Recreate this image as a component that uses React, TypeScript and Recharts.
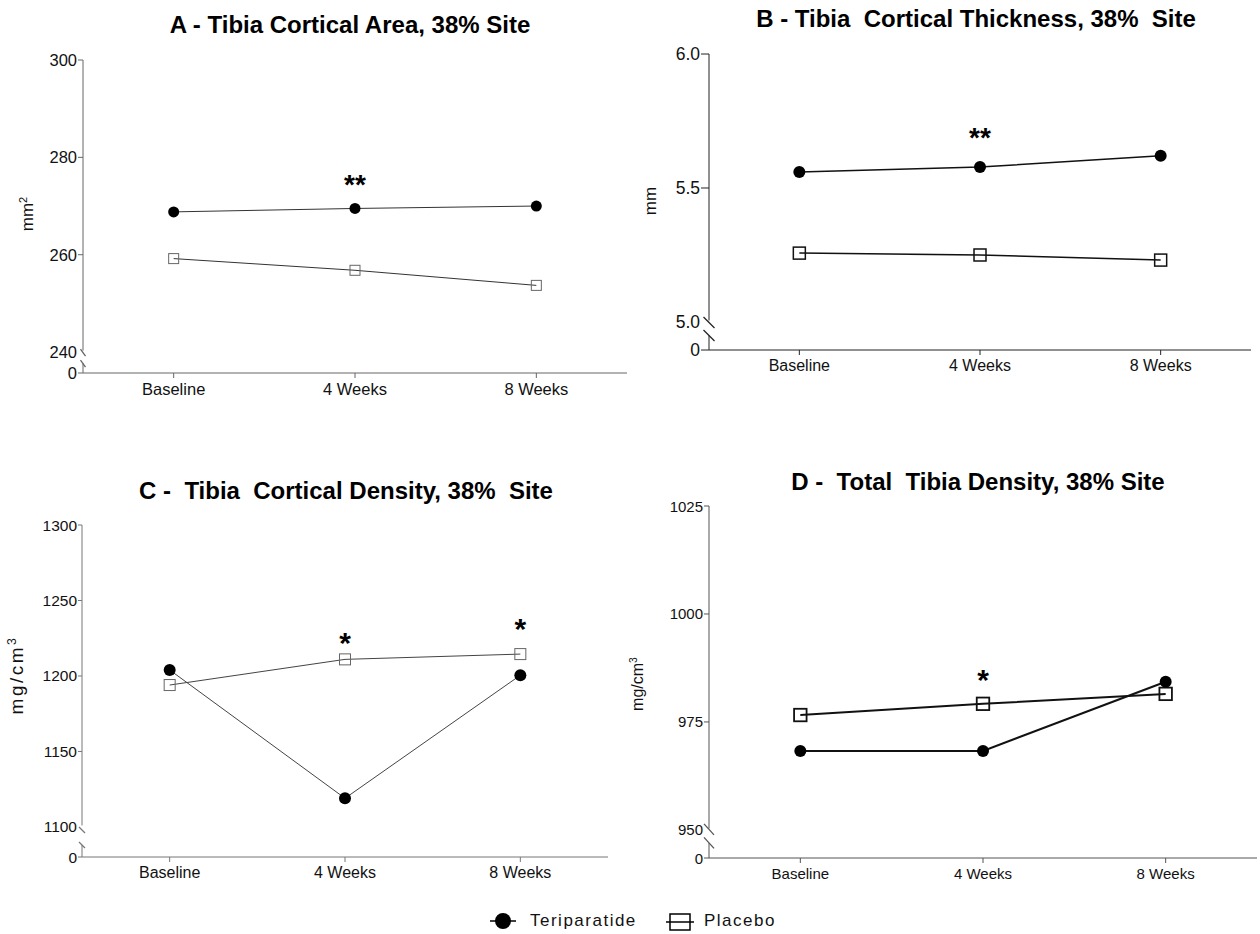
import React from 'react'
import { LineChart, Line, XAxis, YAxis } from 'recharts'

// categories
const weeks = ['Baseline', '4 Weeks', '8 Weeks']

// A - cortical area (mm2)
const areaTeri = [268.8, 269.5, 270.0]
const areaPlac = [259.2, 256.8, 253.7]
const areaSig = ['', '**', '']
const areaTicks = [240, 260, 280, 300]

// B - cortical thickness (mm)
const thickTeri = [5.56, 5.578, 5.62]
const thickPlac = [5.257, 5.25, 5.231]
const thickSig = ['', '**', '']
const thickTicks = [5.0, 5.5, 6.0]

// C - cortical density (mg/cm3)
const cortTeri = [1204, 1119, 1200.5]
const cortPlac = [1194, 1211, 1214.5]
const cortSig = ['', '*', '*']
const cortTicks = [1100, 1150, 1200, 1250, 1300]

// D - total density (mg/cm3)
const totTeri = [968.3, 968.3, 984.3]
const totPlac = [976.6, 979.2, 981.5]
const totSig = ['', '*', '']
const totTicks = [950, 975, 1000, 1025]

const FONT = '"Liberation Sans", Arial, Helvetica, sans-serif'
const Y_W = 50

type Panel = {
  title: string
  titleX: number
  titleTop: number
  unit: React.ReactNode
  unitX: number
  unitY: number
  unitFont: number
  unitSpacing: number
  teri: number[]
  plac: number[]
  sig: string[]
  sigOn: 'teri' | 'plac'
  starGap: number[]
  starSize: number
  ticks: number[]
  floor: number
  digits: number
  box: { left: number; top: number; width: number; height: number }
  margin: { top: number; right: number; bottom: number; left: number }
  yTick: number
  tickFont: number
  xFont: number
  axisColor: string
  lineColor: string
  lineWidth: number
  dotR: number
  sq: number
  sqColor: string
  sqWidth: number
  brk: { w: number; h: number; dy: number; gap: number }
}

const panels: Panel[] = [
  {
    title: 'A - Tibia Cortical Area, 38% Site',
    titleX: 350, titleTop: 13,
    unit: <span>mm<sup style={{ fontSize: '0.65em' }}>2</sup></span>,
    unitX: 27, unitY: 214, unitFont: 17, unitSpacing: 0,
    teri: areaTeri, plac: areaPlac, sig: areaSig, sigOn: 'teri',
    starGap: [0, 29, 0], starSize: 28,
    ticks: areaTicks, floor: 235.7, digits: 0,
    box: { left: 0, top: 0, width: 640, height: 420 },
    margin: { top: 60, right: 13, bottom: 17, left: 33 },
    yTick: 5, tickFont: 16.5, xFont: 16.5,
    axisColor: '#666', lineColor: '#333', lineWidth: 1,
    dotR: 5.5, sq: 10, sqColor: '#666', sqWidth: 1,
    brk: { w: 5, h: 7, dy: 0.5, gap: 11 },
  },
  {
    title: 'B - Tibia  Cortical Thickness, 38%  Site',
    titleX: 976, titleTop: 7,
    unit: <span>mm</span>,
    unitX: 651, unitY: 201, unitFont: 17, unitSpacing: 0,
    teri: thickTeri, plac: thickPlac, sig: thickSig, sigOn: 'teri',
    starGap: [0, 34, 0], starSize: 28,
    ticks: thickTicks, floor: 4.8955, digits: 1,
    box: { left: 630, top: 0, width: 630, height: 400 },
    margin: { top: 54, right: 9, bottom: 20, left: 29 },
    yTick: 8, tickFont: 17.5, xFont: 16,
    axisColor: '#222', lineColor: '#111', lineWidth: 1.5,
    dotR: 6, sq: 12, sqColor: '#111', sqWidth: 1.5,
    brk: { w: 11, h: 11, dy: 0.5, gap: 13 },
  },
  {
    title: 'C -  Tibia  Cortical Density, 38%  Site',
    titleX: 346, titleTop: 479,
    unit: <span>mg/cm<sup style={{ fontSize: '0.65em' }}>3</sup></span>,
    unitX: 17, unitY: 675, unitFont: 19, unitSpacing: 2.5,
    teri: cortTeri, plac: cortPlac, sig: cortSig, sigOn: 'plac',
    starGap: [0, 22, 30], starSize: 30,
    ticks: cortTicks, floor: 1080.1, digits: 0,
    box: { left: 0, top: 450, width: 640, height: 450 },
    margin: { top: 75, right: 32, bottom: 13, left: 32 },
    yTick: 4, tickFont: 15.5, xFont: 16,
    axisColor: '#777', lineColor: '#444', lineWidth: 1,
    dotR: 6, sq: 11, sqColor: '#666', sqWidth: 1,
    brk: { w: 6, h: 6, dy: 3, gap: 15 },
  },
  {
    title: 'D -  Total  Tibia Density, 38% Site',
    titleX: 978, titleTop: 470,
    unit: <span>mg/cm<sup style={{ fontSize: '0.65em' }}>3</sup></span>,
    unitX: 638, unitY: 684, unitFont: 16, unitSpacing: 0,
    teri: totTeri, plac: totPlac, sig: totSig, sigOn: 'plac',
    starGap: [0, 29, 0], starSize: 30,
    ticks: totTicks, floor: 943.5, digits: 0,
    box: { left: 630, top: 450, width: 630, height: 450 },
    margin: { top: 56, right: 3, bottom: 12, left: 29 },
    yTick: 5, tickFont: 15, xFont: 15,
    axisColor: '#555', lineColor: '#111', lineWidth: 2,
    dotR: 6, sq: 12.5, sqColor: '#111', sqWidth: 1.8,
    brk: { w: 10, h: 11, dy: -0.5, gap: 13.5 },
  },
]

function YTick(props: any) {
  const { x, y, payload, p } = props as { x: number; y: number; payload: { value: number }; p: Panel }
  const v = payload.value
  const ax = x + p.yTick + 1
  const label = v === p.floor ? '0' : v.toFixed(p.digits)
  const isBreak = v === p.ticks[0]
  const { w, h, dy, gap } = p.brk
  return (
    <g>
      {isBreak && (
        <>
          <rect x={ax - p.yTick - 1} y={y - 1.5} width={p.yTick + 4} height={dy + gap + 1.5} fill="#fff" />
          <line x1={ax - w / 2} y1={y + dy - h / 2} x2={ax + w / 2} y2={y + dy + h / 2} stroke={p.axisColor} strokeWidth={1.3} />
          <line x1={ax - w / 2} y1={y + dy + gap - h / 2} x2={ax + w / 2} y2={y + dy + gap + h / 2} stroke={p.axisColor} strokeWidth={1.3} />
        </>
      )}
      <text x={x} y={y} textAnchor="end" dominantBaseline="central" fontSize={p.tickFont} fontFamily={FONT} fill="#111">
        {label}
      </text>
    </g>
  )
}

function star(p: Panel, cx: number, cy: number, index: number, s: string) {
  if (!s) return null
  const base = cy - p.starGap[index] + 0.51 * p.starSize
  return (
    <text x={cx} y={base} textAnchor="middle" fontSize={p.starSize} fontWeight="bold" fontFamily={FONT} fill="#000">
      {s}
    </text>
  )
}

function PanelChart({ p }: { p: Panel }) {
  const data = weeks.map((name, i) => ({ name, teri: p.teri[i], plac: p.plac[i], sig: p.sig[i] }))
  const plotW = p.box.width - p.margin.left - p.margin.right - Y_W
  const pad = plotW / 6

  const circleDot = (d: any) => (
    <g key={`c-${d.index}`}>
      <circle cx={d.cx} cy={d.cy} r={p.dotR} fill="#000" />
      {p.sigOn === 'teri' && star(p, d.cx, d.cy, d.index, d.payload.sig)}
    </g>
  )
  const squareDot = (d: any) => (
    <g key={`s-${d.index}`}>
      <rect x={d.cx - p.sq / 2} y={d.cy - p.sq / 2} width={p.sq} height={p.sq} fill="none" stroke={p.sqColor} strokeWidth={p.sqWidth} />
      {p.sigOn === 'plac' && star(p, d.cx, d.cy, d.index, d.payload.sig)}
    </g>
  )

  return (
    <div style={{ position: 'absolute', left: p.box.left, top: p.box.top }}>
      <LineChart width={p.box.width} height={p.box.height} data={data} margin={p.margin}>
        <XAxis
          dataKey="name"
          padding={{ left: pad, right: pad }}
          height={30}
          tickSize={5}
          tickMargin={5}
          interval={0}
          axisLine={{ stroke: p.axisColor }}
          tickLine={{ stroke: p.axisColor }}
          tick={{ fontSize: p.xFont, fill: '#111', fontFamily: FONT }}
        />
        <YAxis
          type="number"
          domain={[p.floor, p.ticks[p.ticks.length - 1]]}
          ticks={[p.floor, ...p.ticks]}
          width={Y_W}
          interval={0}
          tickSize={p.yTick}
          tickMargin={1}
          axisLine={{ stroke: p.axisColor }}
          tickLine={{ stroke: p.axisColor }}
          tick={(tp: any) => <YTick {...tp} p={p} />}
        />
        <Line type="linear" dataKey="plac" stroke={p.lineColor} strokeWidth={p.lineWidth} dot={squareDot} activeDot={false} isAnimationActive={false} />
        <Line type="linear" dataKey="teri" stroke={p.lineColor} strokeWidth={p.lineWidth} dot={circleDot} activeDot={false} isAnimationActive={false} />
      </LineChart>
    </div>
  )
}

export default function App() {
  return (
    <div style={{ position: 'absolute', left: 0, top: 0, width: 1260, height: 934, background: '#fff', fontFamily: FONT, overflow: 'hidden' }}>
      {panels.map((p, i) => (
        <React.Fragment key={i}>
          <PanelChart p={p} />
          <div style={{ position: 'absolute', left: p.titleX, top: p.titleTop, transform: 'translateX(-50%)', whiteSpace: 'pre', fontSize: 24, lineHeight: 1, fontWeight: 'bold', color: '#000' }}>
            {p.title}
          </div>
          <div style={{ position: 'absolute', left: p.unitX, top: p.unitY, transform: 'translate(-50%, -50%) rotate(-90deg)', whiteSpace: 'nowrap', fontSize: p.unitFont, letterSpacing: p.unitSpacing, color: '#111' }}>
            {p.unit}
          </div>
        </React.Fragment>
      ))}
      <svg style={{ position: 'absolute', left: 488, top: 911 }} width={30} height={20}>
        <line x1={2} y1={10} x2={28} y2={10} stroke="#000" strokeWidth={1.5} />
        <circle cx={15} cy={10} r={8} fill="#000" />
      </svg>
      <div style={{ position: 'absolute', left: 530, top: 911, lineHeight: '20px', fontSize: 17, letterSpacing: 1.5, color: '#111' }}>Teriparatide</div>
      <svg style={{ position: 'absolute', left: 662, top: 911 }} width={36} height={22}>
        <line x1={4} y1={11} x2={32} y2={11} stroke="#000" strokeWidth={1.5} />
        <rect x={8} y={3} width={20} height={16} fill="none" stroke="#000" strokeWidth={1.5} />
      </svg>
      <div style={{ position: 'absolute', left: 704, top: 911, lineHeight: '20px', fontSize: 17, letterSpacing: 1.5, color: '#111' }}>Placebo</div>
    </div>
  )
}
